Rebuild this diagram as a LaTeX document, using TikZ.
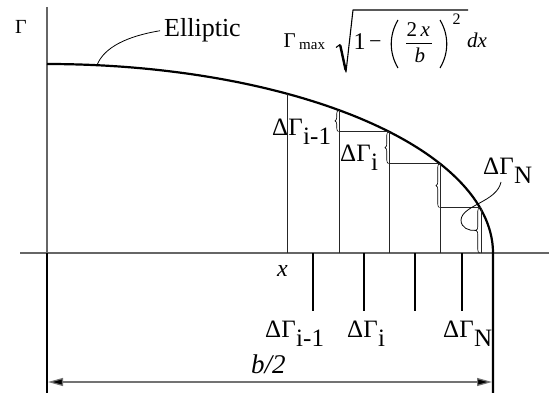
\documentclass[tikz,border=0pt]{standalone}
\usepackage{fontspec}
\setmainfont{Liberation Serif}
\newfontfamily\tnr{Liberation Serif}
\usetikzlibrary{arrows.meta,decorations.pathreplacing}
\newcommand\dGam[1]{ΔΓ\kern0.5pt{\fontsize{25pt}{25pt}\selectfont\lower9pt\hbox{#1}}}
\newcommand\fs[1]{\tnr\fontsize{#1}{#1}\selectfont}
\begin{document}
\begin{tikzpicture}[x=1pt,y=-1pt,
  axisline/.style={draw=black!60,line width=1.1pt},
  curveline/.style={line width=2.2pt,line join=round},
  stepline/.style={draw=black!85,line width=0.9pt},
  tickline/.style={line width=1.8pt},
  extline/.style={line width=1.8pt},
  bracestyle/.style={decorate,decoration={brace,amplitude=3.5pt},line width=0.6pt},
  leader/.style={line width=0.8pt},
  lbl/.style={inner sep=0pt,anchor=base west},
  dlbl/.style={lbl,font=\fs{25pt}},
  dimline/.style={draw=black!55,line width=1.2pt,{Triangle[length=15pt,width=8pt,fill=black]}-{Triangle[length=15pt,width=8pt,fill=black]}}
]
\useasboundingbox (0,0) rectangle (549,393);
% axes
\draw[axisline] (47,7) -- (47,253);
\draw[axisline] (20,253) -- (549,253);
% extension lines
\draw[extline] (47,253) -- (47,393);
% ellipse
\draw[curveline] plot[domain=0:90,samples=150,smooth] ({47+446*sin(\x)},{253-189*cos(\x)}) -- (493,393);
% steps
\draw[stepline] (287,253) -- (287,93.7);
\draw[stepline] (339,253) -- (339,110.1);
\draw[stepline] (389,253) -- (389,131.7);
\draw[stepline] (440,253) -- (440,163.6);
\draw[stepline] (481,253) -- (481,207.7);
\draw[stepline] (339,131.7) -- (389,131.7);
\draw[stepline] (389,163.6) -- (440,163.6);
\draw[stepline] (440,207.7) -- (481,207.7);
% braces
\draw[bracestyle] (338.5,131.7) -- (338.5,110.1);
\draw[bracestyle] (388.5,163.6) -- (388.5,131.7);
\draw[bracestyle] (439.5,207.7) -- (439.5,163.6);
\draw[bracestyle] (479.5,253) -- (479.5,207.7);
% ticks below axis
\draw[tickline] (313,253) -- (313,311);
\draw[tickline] (364,253) -- (364,311);
\draw[tickline] (415,253) -- (415,311);
\draw[tickline] (462,253) -- (462,311);
% dimension
\coordinate (dimL) at (48,382);
\coordinate (dimR) at (492,382);
\draw[dimline] (dimL) -- (dimR);
\node[lbl,font=\fs{27pt}\itshape] (bhalf) at (251,373) {b/2};
% labels
\node[lbl,font=\fs{20pt}] (gam) at (15,34) {Γ};
\node[lbl,font=\fs{26pt}] (ell) at (164,37) {Elliptic};
\coordinate (ellpt) at (97,65.2);
\draw[leader] ([xshift=-4pt]ell.west) .. controls (128,36) and (104,47) .. (ellpt);
\node[lbl,font=\fs{24pt}\itshape] (xl) at (277,276) {x};
% upper delta labels
\node[dlbl] (uIm1) at (272,136) {\dGam{i-1}};
\node[dlbl] (uI) at (340,162) {\dGam{i}};
\node[dlbl] (uN) at (483,175) {\dGam{N}};
\coordinate (tipN) at (475.8,230.4);
\draw[leader] ([shift={(18pt,-7pt)}]uN.base west) .. controls (497,202) and (462,205) .. (461,220) .. controls (461,228) and (469,231) .. (tipN);
% lower delta labels
\node[dlbl] (lIm1) at (265,337) {\dGam{i-1}};
\node[dlbl] (lI) at (347,337) {\dGam{i}};
\node[dlbl] (lN) at (443,337) {\dGam{N}};
% formula
\node[lbl,font=\fs{21pt}] (fG) at (283.5,48) {Γ};
\node[lbl,font=\fs{15pt}] (fmax) at (299,50) {max};
\draw[line width=1.1pt,line join=round] (336,47.5) -- (340,44.5) -- (346,72) -- (353,10) -- (468,10);
\draw[line width=2.4pt] (340.3,45.5) -- (345.6,70);
\node[lbl,font=\fs{24pt}] (fone) at (353.5,50) {1};
\node[lbl,font=\fs{22pt}] (fminus) at (369,49) {−};
\draw[line width=1.1pt] (398,20) .. controls (389,35) and (389,53) .. (398,68);
\node[lbl,font=\fs{21pt}] (ftwo) at (406.5,37) {2};
\node[lbl,font=\fs{21pt}\itshape] (fx) at (420.5,37) {x};
\draw[line width=0.9pt] (406,43) -- (432,43);
\node[lbl,font=\fs{21pt}\itshape] (fb) at (414.5,63) {b};
\draw[line width=1.1pt] (440,20) .. controls (449,35) and (449,53) .. (440,68);
\node[lbl,font=\fs{16pt}] (fsq) at (452.5,25) {2};
\node[lbl,font=\fs{21pt}\itshape] (fdx) at (467,48) {dx};
\end{tikzpicture}
\end{document}
